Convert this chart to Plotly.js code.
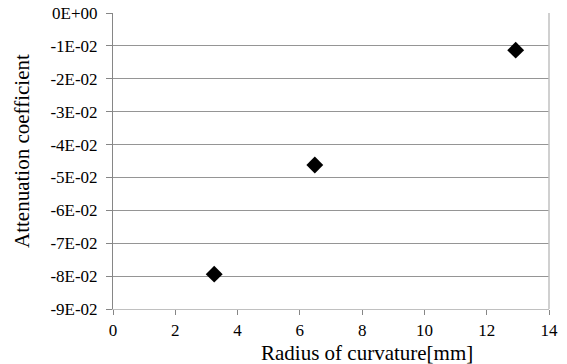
<!DOCTYPE html>
<html>
<head>
<meta charset="utf-8">
<script src="https://cdn.plot.ly/plotly-3.0.1.min.js"></script>
<style>html,body{margin:0;padding:0;background:#fff;}#chart{width:567px;height:364px;}</style>
</head>
<body>
<div id="chart"></div>
<script>
const radius = [3.25, 6.48, 12.93];
const attenuation = [-0.0794, -0.0462, -0.0113];
const yTickVals = [0, -0.01, -0.02, -0.03, -0.04, -0.05, -0.06, -0.07, -0.08, -0.09];
const yTickText = ["0E+00", "-1E-02", "-2E-02", "-3E-02", "-4E-02", "-5E-02", "-6E-02", "-7E-02", "-8E-02", "-9E-02"];
const xTickVals = [0, 2, 4, 6, 8, 10, 12, 14];
const xTitle = "Radius of curvature[mm]";
const yTitle = "Attenuation coefficient";
const fam = "Liberation Serif";

Plotly.newPlot("chart", [{
  x: radius, y: attenuation, type: "scatter", mode: "markers",
  marker: {symbol: "diamond", size: 13, color: "#000000"},
  showlegend: false, cliponaxis: false
}], {
  width: 567, height: 364,
  margin: {l: 113, r: 18, t: 13, b: 55},
  paper_bgcolor: "#ffffff", plot_bgcolor: "#ffffff",
  font: {family: fam, color: "#000000", size: 16},
  xaxis: {
    range: [0, 14], tickvals: xTickVals, ticks: "outside", ticklen: 5, tickcolor: "#868686",
    showgrid: false, zeroline: false, showline: true, linecolor: "#c0c0c0", linewidth: 1,
    tickfont: {size: 17, family: fam, color: "#000000"}, ticklabelstandoff: 1, fixedrange: true
  },
  yaxis: {
    range: [-0.09, 0], tickvals: yTickVals, ticktext: yTickText, ticks: "outside", ticklen: 6,
    tickcolor: "#868686", showgrid: true, gridcolor: "#959595", gridwidth: 1,
    zeroline: false, showline: true, linecolor: "#868686", linewidth: 1,
    tickfont: {size: 17, family: fam, color: "#000000"}, ticklabelstandoff: 5, fixedrange: true
  },
  shapes: [
    {type: "line", xref: "paper", yref: "paper", x0: 1, x1: 1, y0: 0, y1: 1,
     line: {color: "#c0c0c0", width: 1.5}}
  ],
  annotations: [
    {text: xTitle, xref: "paper", yref: "paper", x: 0, xanchor: "center", xshift: 254,
     y: 0, yshift: -44, yanchor: "middle",
     showarrow: false, font: {size: 21, family: fam, color: "#000000"}},
    {text: yTitle, xref: "paper", yref: "paper", x: 0, xshift: -91, xanchor: "center",
     y: 1, yshift: -138, yanchor: "middle",
     showarrow: false, font: {size: 21, family: fam, color: "#000000"}, textangle: -90}
  ]
}, {displayModeBar: false, staticPlot: true});
</script>
</body>
</html>
